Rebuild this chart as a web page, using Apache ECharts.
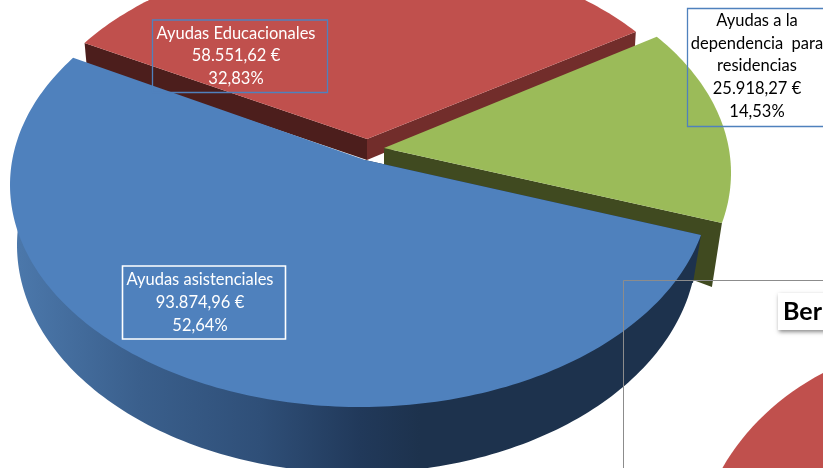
<!DOCTYPE html>
<html>
<head>
<meta charset="utf-8">
<style>html,body{margin:0;padding:0;background:#fff}#c{width:823px;height:468px}</style>
<script src="https://cdn.jsdelivr.net/npm/echarts@6/dist/echarts.min.js"></script>
</head>
<body>
<div id="c"></div>
<script>
const categories = ['Ayudas asistenciales', 'Ayudas Educacionales', 'Ayudas a la\ndependencia  para\nresidencias'];
const amounts = [93874.96, 58551.62, 25918.27];
const colors = ['#4f81bd', '#c0504d', '#9bbb59'];
const titleText = 'Ber';

// projection parameters of the tilted, exploded pie
const startAngle = 19.4;
const geometry = [
  { tip: [365, 160], ell: [360, 185, 350, 222], z: 6, tipDrop: 48,
    lowTip: [366, 204], lowEll: [357, 245, 340, 228],
    startFace: { drop: [-8, 48], color: '#1d324d' } },
  { tip: [367, 139], ell: [367, 164, 344, 212], z: 2, tipDrop: 21,
    startFace: { drop: [2, 22], color: '#4c1e1c' },
    endFace: { drop: [-1, 16], color: '#722d2b' } },
  { tip: [384, 148], ell: [379, 173, 352, 222], z: 4, tipDrop: 17,
    endFace: { drop: [-10, 64], color: '#404a20' } }
];
const boxes = [
  { rect: [122.5, 266, 163, 73], border: '#ffffff', width: 1.6, color: '#ffffff', at: [200, 302.5] },
  { rect: [152.5, 20, 175, 72.5], border: '#4f81bd', width: 1.3, color: '#ffffff', at: [236, 56] },
  { rect: [687.5, 8.5, 150, 118], border: '#4f81bd', width: 1.3, color: '#000000', at: [757, 66] }
];
const sideGradient = { type: 'linear', x: 20, y: 0, x2: 420, y2: 0, global: true, colorStops: [
  { offset: 0, color: '#4b77aa' }, { offset: 0.3, color: '#3a5f8c' },
  { offset: 0.6, color: '#2f4f78' }, { offset: 0.85, color: '#21395a' }, { offset: 1, color: '#1d324d' }
] };

const total = amounts.reduce((a, b) => a + b, 0);
function fmtEs(v, d) {
  const parts = v.toFixed(d).split('.');
  return parts[0].replace(/\B(?=(\d{3})+$)/g, '.') + ',' + parts[1];
}

function ray(tip, e, deg) {
  const a = deg * Math.PI / 180, ux = Math.cos(a), uy = Math.sin(a);
  const px = (tip[0] - e[0]) / e[2], py = (tip[1] - e[1]) / e[3];
  const b = px * ux + py * uy;
  const t = -b + Math.sqrt(b * b - px * px - py * py + 1);
  return [tip[0] + t * ux * e[2], tip[1] + t * uy * e[3]];
}
function sector(tip, e, a0, a1) {
  const pts = [tip];
  for (let a = a0; a < a1; a += 1) pts.push(ray(tip, e, a));
  pts.push(ray(tip, e, a1));
  return pts;
}
function poly(points, fill, z2) {
  return { type: 'polygon', shape: { points }, style: { fill, stroke: null }, z2, silent: true };
}
function sliceRender(params, api) {
  const i = params.dataIndex, g = geometry[i];
  let before = 0;
  for (let k = 0; k < i; k++) before += amounts[k];
  const a0 = startAngle + before / total * 360;
  const a1 = a0 + api.value(0) / total * 360;
  const children = [];
  if (g.lowTip) children.push(poly(sector(g.lowTip, g.lowEll, a0, a1), sideGradient, g.z - 1));
  const face = (f, ang) => {
    if (!f) return;
    const p = ray(g.tip, g.ell, ang);
    children.push(poly([g.tip, p, [p[0] + f.drop[0], p[1] + f.drop[1]], [g.tip[0], g.tip[1] + g.tipDrop]], f.color, g.z - 1));
  };
  face(g.startFace, a0);
  face(g.endFace, a1);
  children.push(poly(sector(g.tip, g.ell, a0, a1), colors[i], g.z));
  return { type: 'group', children };
}
function labelRender(params, api) {
  const i = params.dataIndex, b = boxes[i], v = api.value(0);
  const text = categories[i] + '\n' + fmtEs(v, 2) + ' €\n' + fmtEs(v / total * 100, 2) + '%';
  return { type: 'group', children: [
    { type: 'rect', shape: { x: b.rect[0], y: b.rect[1], width: b.rect[2], height: b.rect[3] },
      style: { fill: 'transparent', stroke: b.border, lineWidth: b.width }, z2: 20, silent: true },
    { type: 'text', x: b.at[0], y: b.at[1], z2: 21, silent: true,
      style: { text, fill: b.color, font: '400 16.5px Lato', lineHeight: 22.7, align: 'center', verticalAlign: 'middle' } }
  ] };
}

const chart = echarts.init(document.getElementById('c'), null, { renderer: 'canvas' });
chart.setOption({
  animation: false,
  tooltip: { show: false },
  series: [
    { type: 'custom', coordinateSystem: 'none', renderItem: sliceRender, data: amounts.map(v => [v]), z: 2, silent: true },
    { type: 'custom', coordinateSystem: 'none', renderItem: labelRender, data: amounts.map(v => [v]), z: 3, silent: true }
  ],
  graphic: [
    { type: 'rect', z: 10, shape: { x: 623.5, y: 280.5, width: 260, height: 260 }, style: { fill: 'transparent', stroke: '#8c8c8c', lineWidth: 1 }, silent: true },
    { type: 'ellipse', z: 11, shape: { cx: 960, cy: 570, rx: 265, ry: 230 }, style: { fill: '#c0504d' }, silent: true },
    { type: 'rect', z: 12, shape: { x: 778, y: 293, width: 80, height: 37 }, style: { fill: '#fff', shadowBlur: 4, shadowColor: 'rgba(0,0,0,0.45)', shadowOffsetX: 1, shadowOffsetY: 2 }, silent: true },
    { type: 'text', z: 13, x: 783, y: 312, style: { text: titleText, fill: '#000', font: '700 25px Lato', verticalAlign: 'middle', align: 'left' }, silent: true }
  ]
});
</script>
</body>
</html>
